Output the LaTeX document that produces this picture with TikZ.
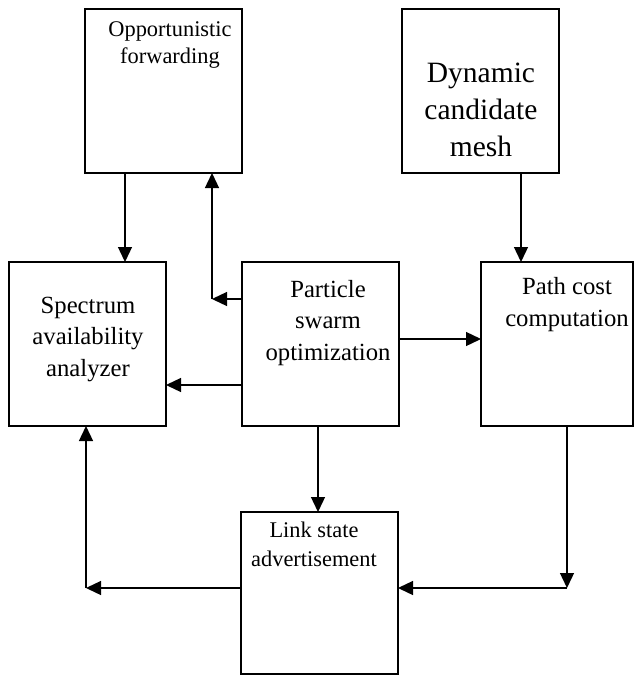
\documentclass[tikz,border=0pt]{standalone}
\usepackage{fontspec}
\setmainfont{Liberation Serif}
\usetikzlibrary{arrows.meta}
\begin{document}
\begin{tikzpicture}[x=1pt,y=-1pt,
  box/.style={draw,line width=1.3pt,inner sep=0pt,outer sep=0pt,rectangle},
  conn/.style={line width=1.3pt,-{Triangle[length=15pt,width=14pt]}},
  txt/.style={align=center,inner sep=0pt,anchor=base},
  fs/.style={font=\fontsize{22.4}{26.5}\selectfont},
  fm/.style={font=\fontsize{24.7}{31.5}\selectfont},
  fl/.style={font=\fontsize{29.5}{37}\selectfont}]
\useasboundingbox (0,0) rectangle (634,675);
% boxes
\node[box,minimum width=157pt,minimum height=164pt] (opp) at (163.5,91) {};
\node[box,minimum width=157pt,minimum height=164pt] (dyn) at (480.5,91) {};
\node[box,minimum width=157pt,minimum height=164pt] (spec) at (87.5,344) {};
\node[box,minimum width=157pt,minimum height=164pt] (pso) at (320.5,344) {};
\node[box,minimum width=152pt,minimum height=164pt] (path) at (557,344) {};
\node[box,minimum width=157pt,minimum height=162pt] (lsa) at (319.5,593) {};
% texts
\node[txt,fs] (oppT) at (170,63) {Opportunistic\\forwarding};
\node[txt,fl] (dynT) at (481,156) {Dynamic\\candidate\\mesh};
\node[txt,fm] (specT) at (88,376) {Spectrum\\availability\\analyzer};
\node[txt,fm] (psoT) at (328,360) {Particle\\swarm\\optimization};
\node[txt,fm] (pathT) at (567,326) {Path cost\\computation};
\node[txt,fs,font=\fontsize{22.4}{28.5}\selectfont] (lsaT) at (314,566) {Link state\\advertisement};
% connector coordinates
\coordinate (xa) at (125,0);
\coordinate (j1) at (212,299);
\coordinate (ya) at (0,385);
\coordinate (yb) at (0,339);
\coordinate (xb) at (521,0);
\coordinate (xc) at (318,0);
\coordinate (j2) at (86,588);
\coordinate (j3) at (567,588);
% connectors
\draw[conn] (opp.south -| xa) -- (spec.north -| xa);
\draw[conn] (pso.west |- j1) -- (j1);
\draw[conn] (j1) -- (opp.south -| j1);
\draw[conn] (pso.west |- ya) -- (spec.east |- ya);
\draw[conn] (pso.east |- yb) -- (path.west |- yb);
\draw[conn] (dyn.south -| xb) -- (path.north -| xb);
\draw[conn] (pso.south -| xc) -- (lsa.north -| xc);
\draw[conn] (lsa.west |- j2) -- (j2);
\draw[conn] (j2) -- (spec.south -| j2);
\draw[conn] (path.south -| j3) -- (j3);
\draw[conn] (j3) -- (lsa.east |- j3);
\end{tikzpicture}
\end{document}
